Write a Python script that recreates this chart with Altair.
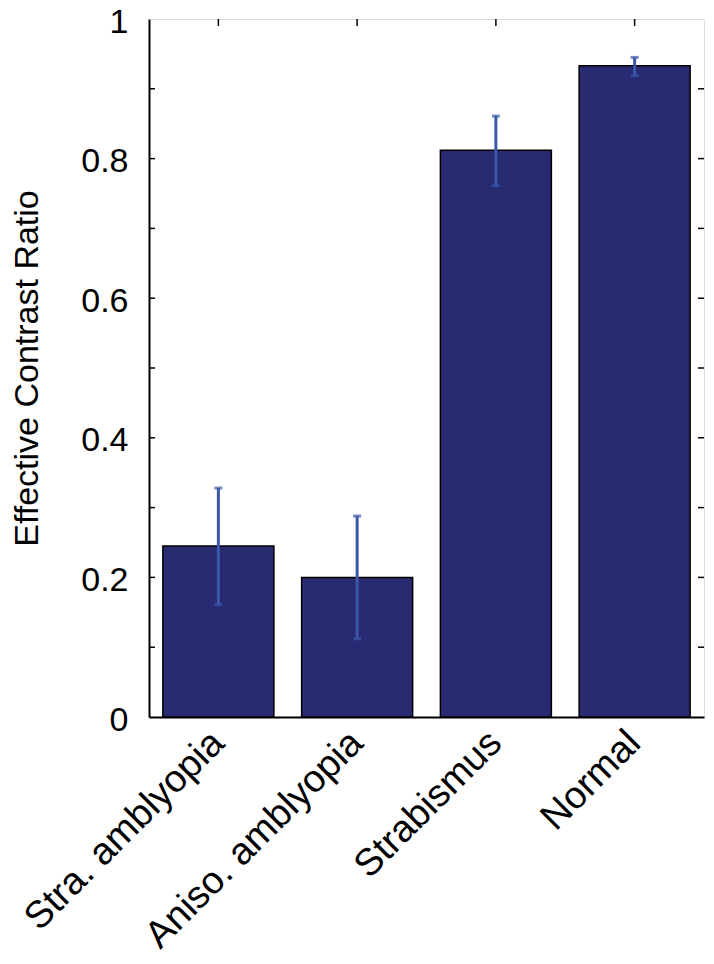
import altair as alt
import pandas as pd

categories = ["Stra. amblyopia", "Aniso. amblyopia", "Strabismus", "Normal"]
values = [0.245, 0.200, 0.812, 0.933]
err_low = [0.161, 0.112, 0.761, 0.919]
err_high = [0.328, 0.288, 0.861, 0.945]
minor_ticks = [0.1, 0.2, 0.3, 0.4, 0.5, 0.6, 0.7, 0.8, 0.9]
label_ticks = [0, 0.2, 0.4, 0.6, 0.8, 1]

W, H = 555, 698
FONT = "Liberation Sans"

df = pd.DataFrame({"cat": categories, "val": values, "lo": err_low, "hi": err_high})
tdf = pd.DataFrame({"t": minor_ticks})

xscale = alt.Scale(domain=categories, paddingInner=0.2, paddingOuter=0.1)
yscale = alt.Scale(domain=[0, 1], nice=False, zero=True)

base = alt.Chart(df)

bars = base.mark_bar(color="#282a72", stroke="black", strokeWidth=1.5).encode(
    x=alt.X("cat:N", scale=xscale, sort=categories, title=None,
            axis=alt.Axis(labelAngle=-45, labelFontSize=38, labelFont=FONT, labelColor="black",
                          ticks=False, domain=True, domainColor="black", domainWidth=2,
                          labelPadding=20, labelAlign="right", labelBaseline="middle",
                          labelLimit=0)),
    y=alt.Y("val:Q", scale=yscale, title="Effective Contrast Ratio",
            axis=alt.Axis(values=label_ticks, format="~g", ticks=False, grid=False,
                          labelFontSize=34, labelFont=FONT, labelColor="black", labelPadding=21,
                          labelOffset=3,
                          titleFontSize=34, titleFont=FONT, titleFontWeight="normal",
                          titleColor="black", titlePadding=36,
                          domain=True, domainColor="black", domainWidth=2)),
)

err = base.mark_rule(color="#3b57a9", strokeWidth=3).encode(
    x=alt.X("cat:N", scale=xscale, sort=categories),
    y="lo:Q", y2="hi:Q",
)
cap_lo = base.mark_tick(color="#3b57a9", thickness=3, size=8, orient="horizontal").encode(
    x=alt.X("cat:N", scale=xscale, sort=categories), y="lo:Q")
cap_hi = base.mark_tick(color="#3b57a9", thickness=3, size=8, orient="horizontal").encode(
    x=alt.X("cat:N", scale=xscale, sort=categories), y="hi:Q")

tick_style = dict(color="black", strokeWidth=1.5)
left_ticks = alt.Chart(tdf).mark_rule(**tick_style).encode(
    y="t:Q", x=alt.value(0), x2=alt.value(6))
right_ticks = alt.Chart(tdf).mark_rule(**tick_style).encode(
    y="t:Q", x=alt.value(W - 6), x2=alt.value(W))
top_ticks = base.mark_rule(**tick_style).encode(
    x=alt.X("cat:N", scale=xscale, sort=categories), y=alt.value(0), y2=alt.value(7))
bottom_ticks = base.mark_rule(**tick_style).encode(
    x=alt.X("cat:N", scale=xscale, sort=categories), y=alt.value(H - 7), y2=alt.value(H))

chart = alt.layer(bottom_ticks, bars, err, cap_lo, cap_hi, left_ticks, right_ticks, top_ticks).properties(
    width=W, height=H,
    autosize=alt.AutoSizeParams(type="none"),
    padding={"left": 141, "top": 11, "right": 2, "bottom": 245},
).configure_view(stroke="black", strokeWidth=2).configure(background="white")

chart.save("out.html", embed_options={"renderer": "svg", "actions": False})
